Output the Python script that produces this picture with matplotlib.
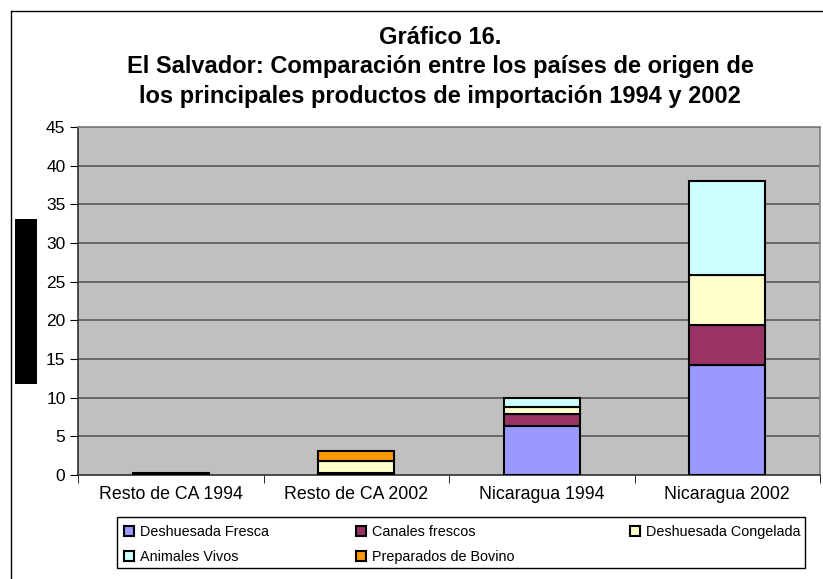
import matplotlib
matplotlib.use("Agg")
import matplotlib.pyplot as plt
from matplotlib.patches import Rectangle, Patch
from matplotlib.lines import Line2D
import numpy as np

plt.rcParams['font.family'] = ['Liberation Sans', 'DejaVu Sans']

categories = ["Resto de CA 1994", "Resto de CA 2002", "Nicaragua 1994", "Nicaragua 2002"]
series_names = ["Deshuesada Fresca", "Canales frescos", "Deshuesada Congelada",
                "Animales Vivos", "Preparados de Bovino"]
fresca = [0.3, 0.2, 6.4, 14.2]
canales = [0.0, 0.0, 1.5, 5.2]
congelada = [0.0, 1.55, 0.85, 6.5]
vivos = [0.0, 0.0, 1.25, 12.1]
preparados = [0.0, 1.35, 0.0, 0.0]
colors = ["#9999FF", "#993366", "#FFFFCC", "#CCFFFF", "#FF9900"]
yticks = [0, 5, 10, 15, 20, 25, 30, 35, 40, 45]
title_lines = ["Gráfico 16.",
               "El Salvador: Comparación entre los países de origen de",
               "los principales productos de importación 1994 y 2002"]

W, H = 823, 579
fig = plt.figure(figsize=(W / 100, H / 100), dpi=100)
fig.patch.set_facecolor("white")

# outer chart border (left and top visible)
fig.add_artist(Line2D([11 / W, 11 / W], [0, 1 - 11 / H], transform=fig.transFigure, color="black", lw=1))
fig.add_artist(Line2D([11 / W, 1], [1 - 11 / H, 1 - 11 / H], transform=fig.transFigure, color="black", lw=1))

# black rectangle on the left
fig.add_artist(Rectangle((15 / W, 1 - 384 / H), 22 / W, 165 / H, transform=fig.transFigure,
                         facecolor="black", edgecolor="none"))

ax = fig.add_axes([78 / W, 1 - 475 / H, (820 - 78) / W, (475 - 127) / H])
ax.set_facecolor("#C0C0C0")

x = np.arange(len(categories))
data = [fresca, canales, congelada, vivos, preparados]
bottom = np.zeros(len(categories))
for vals, col in zip(data, colors):
    v = np.array(vals)
    mask = v > 0
    ax.bar(x[mask], v[mask], width=0.41, bottom=bottom[mask], color=col,
           edgecolor="black", linewidth=1.5, zorder=3)
    bottom += v

ax.set_xlim(-0.5, 3.5)
ax.set_ylim(0, 45)
ax.set_yticks(yticks)
ax.set_yticklabels([str(t) for t in yticks], fontsize=12.5)
for t in yticks[1:]:
    ax.axhline(t, color="#606060", lw=1.3, zorder=1)

ax.set_xticks(x)
ax.set_xticklabels(categories, fontsize=12.8)
ax.tick_params(axis="x", which="major", length=0, pad=8)
ax.set_xticks([-0.5, 0.5, 1.5, 2.5, 3.5], minor=True)
ax.tick_params(axis="x", which="minor", length=6, direction="out", color="black")
ax.tick_params(axis="y", length=6, direction="out", color="black", pad=3)

for s in ["top", "right"]:
    ax.spines[s].set_color("#808080")
    ax.spines[s].set_linewidth(1.2)
for s in ["left", "bottom"]:
    ax.spines[s].set_color("#303030")
    ax.spines[s].set_linewidth(1.2)

# title
ys = [37, 67, 97]
for line, yy in zip(title_lines, ys):
    fig.text(440 / W, 1 - yy / H, line, ha="center", va="center", fontsize=17, fontweight="bold")

# legend frame
fig.add_artist(Rectangle((117 / W, 1 - 568 / H), (805 - 117) / W, (568 - 517) / H,
                         transform=fig.transFigure, facecolor="white", edgecolor="black", lw=1.0))
handles = [Patch(facecolor=c, edgecolor="black", linewidth=1.5) for c in colors]
columns = [([0, 3], 120), ([1, 4], 352), ([2], 626)]
for idx, xpx in columns:
    leg = fig.legend([handles[i] for i in idx], [series_names[i] for i in idx],
                     ncol=1, loc="upper left", bbox_to_anchor=(xpx / W, 1 - 521 / H),
                     frameon=False, fontsize=10.4,
                     handlelength=0.7, handleheight=0.7, handletextpad=0.4,
                     labelspacing=0.75, borderpad=0.3, borderaxespad=0)

fig.savefig("out.png", dpi=100, facecolor="white")
